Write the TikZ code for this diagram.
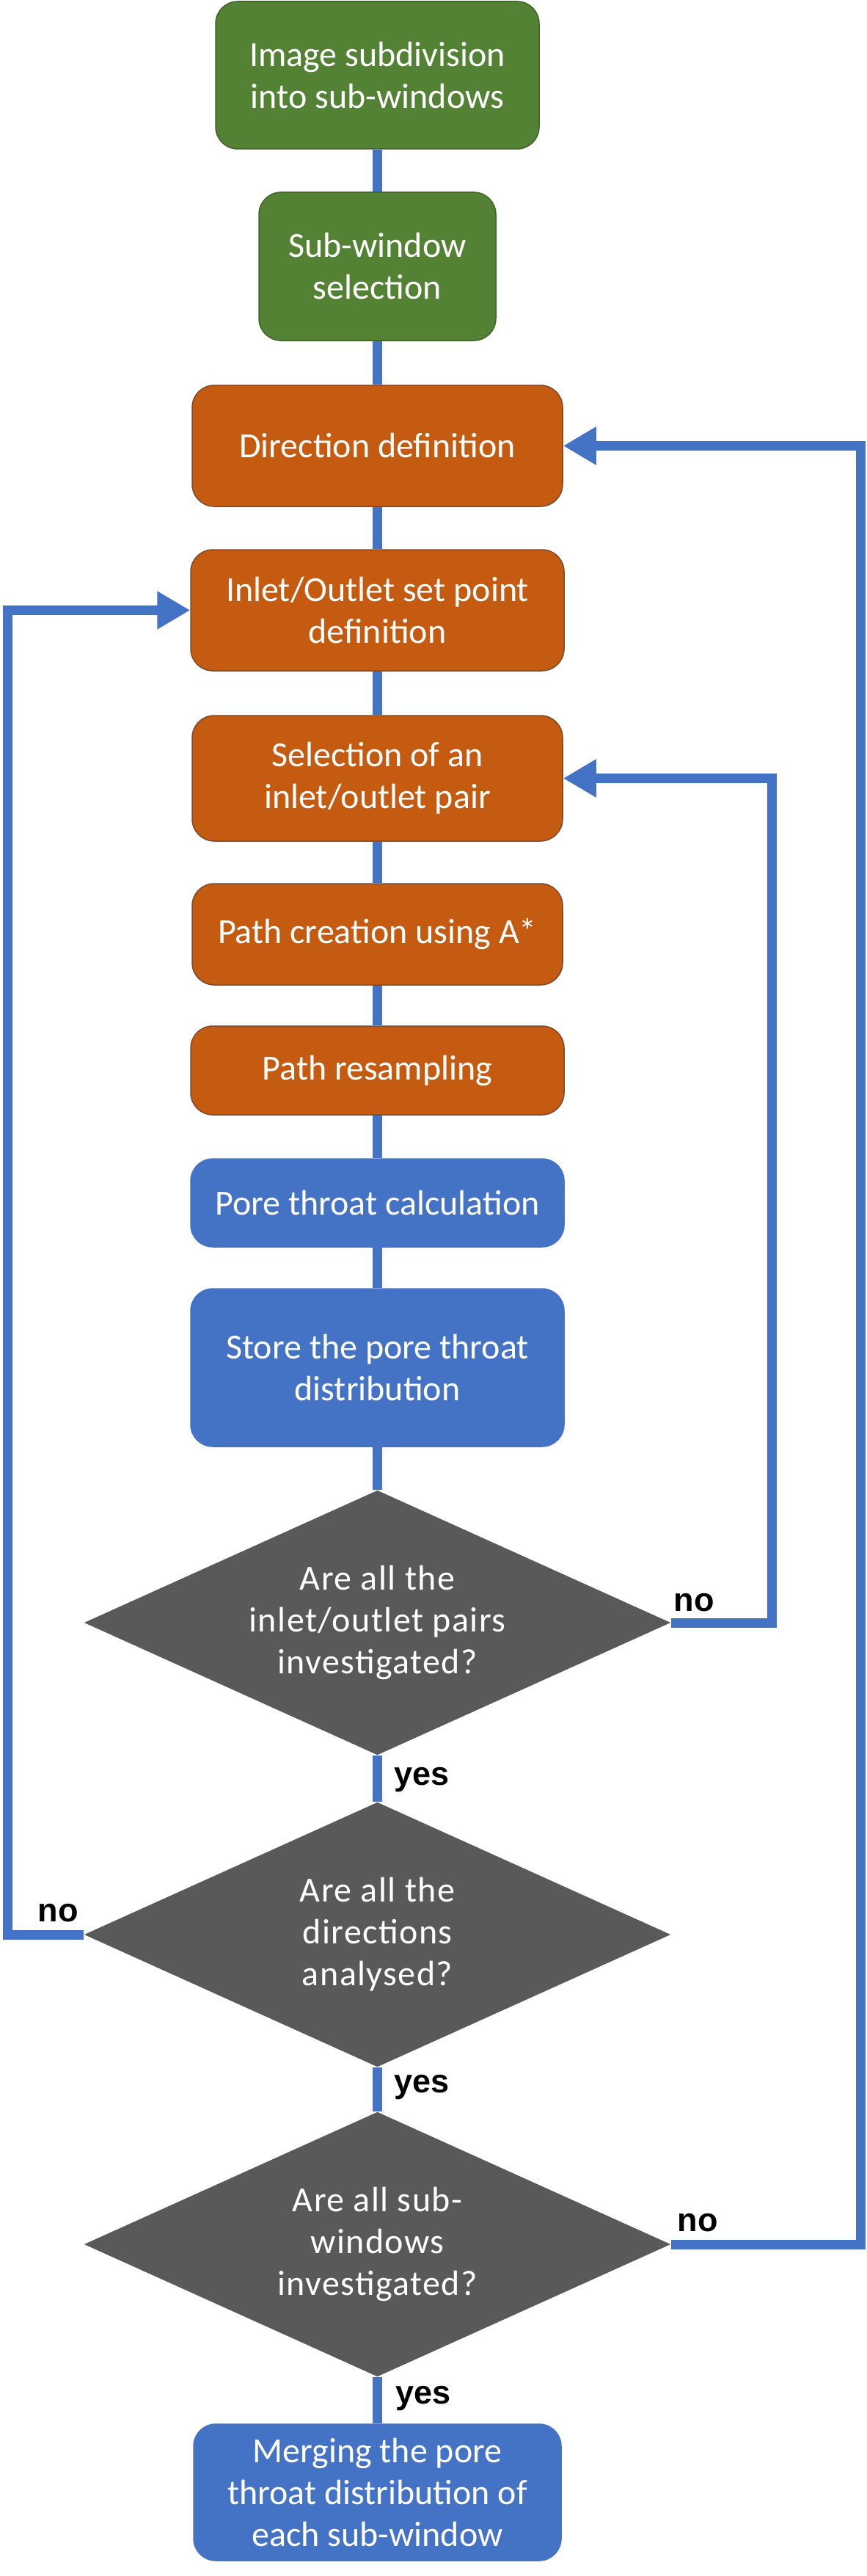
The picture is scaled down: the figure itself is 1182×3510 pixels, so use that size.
\documentclass[tikz,border=0pt]{standalone}
\usepackage{fontspec}
\setmainfont{Carlito}
\newfontfamily\lblfont{Liberation Sans}
\usetikzlibrary{shapes.geometric,arrows.meta}

\definecolor{subgreen}{HTML}{548235}
\definecolor{subgreenedge}{HTML}{3F6228}
\definecolor{steporange}{HTML}{C55A11}
\definecolor{steporangeedge}{HTML}{7A4A2E}
\definecolor{stepblue}{HTML}{4472C4}
\definecolor{decgrey}{HTML}{595959}
\definecolor{flowblue}{HTML}{4472C4}

\tikzset{every picture/.style={line width=0.75pt}}
\tikzset{
  box/.style={rounded corners=15pt, text=white, align=center, inner sep=0pt,
    font=\fontsize{24}{28.5}\selectfont},
  greenbox/.style={box, fill=subgreen, draw=subgreenedge},
  orangebox/.style={box, fill=steporange, draw=steporangeedge},
  bluebox/.style={box, fill=stepblue, draw=stepblue},
  decision/.style={diamond, shape aspect=2.2, fill=decgrey, text=white, align=center,
    inner sep=0pt, minimum width=400pt, minimum height=180.5pt,
    font=\fontsize{24}{28.5}\selectfont\addfontfeature{LetterSpace=3}},
  flow/.style={draw=flowblue, line width=6.5pt},
  back/.style={flow, -{Triangle[length=22.5pt,width=24.5pt]}},
  lbl/.style={font=\lblfont\bfseries\fontsize{22.5}{27}\selectfont, inner sep=0pt, anchor=base west}
}

\begin{document}
\begin{tikzpicture}[x=0.5pt,y=0.5pt,yscale=-1,xscale=1]
	\useasboundingbox (0,0) rectangle (1182,3510);
	%Shape: Rounded Rect [id:subdiv]
	\node[greenbox, minimum width=220.5pt, minimum height=100.5pt] (subdiv) at (514.5,102.5) {Image subdivision\\into sub-windows};
	%Shape: Rounded Rect [id:subsel]
	\node[greenbox, minimum width=161.5pt, minimum height=101pt] (subsel) at (514.5,363) {Sub-window\\selection};
	%Shape: Rounded Rect [id:dirdef]
	\node[orangebox, minimum width=252.5pt, minimum height=82.5pt] (dirdef) at (514.5,607.5) {Direction definition};
	%Shape: Rounded Rect [id:setpt]
	\node[orangebox, minimum width=254.5pt, minimum height=82.5pt] (setpt) at (514.5,831.5) {Inlet/Outlet set point\\definition};
	%Shape: Rounded Rect [id:pairsel]
	\node[orangebox, minimum width=252.5pt, minimum height=85.5pt] (pairsel) at (514.5,1060.5) {Selection of an\\inlet/outlet pair};
	%Shape: Rounded Rect [id:astar]
	\node[orangebox, minimum width=252.5pt, minimum height=69pt] (astar) at (514.5,1273) {Path creation using A*};
	%Shape: Rounded Rect [id:resamp]
	\node[orangebox, minimum width=254.5pt, minimum height=60.5pt] (resamp) at (514.5,1458.5) {Path resampling};
	%Shape: Rounded Rect [id:calc]
	\node[bluebox, minimum width=254.5pt, minimum height=60pt] (calc) at (514.5,1639) {Pore throat calculation};
	%Shape: Rounded Rect [id:store]
	\node[bluebox, minimum width=254.5pt, minimum height=107.5pt] (store) at (514.5,1863.5) {Store the pore throat\\distribution};
	%Shape: Diamond [id:pairsdone]
	\node[decision] (pairsdone) at (514.5,2211) {Are all the\\inlet/outlet pairs\\investigated?};
	%Shape: Diamond [id:dirsdone]
	\node[decision] (dirsdone) at (514.5,2636) {Are all the\\directions\\analysed?};
	%Shape: Diamond [id:winsdone]
	\node[decision] (winsdone) at (514.5,3058) {Are all sub-\\windows\\investigated?};
	%Shape: Rounded Rect [id:merge]
	\node[bluebox, minimum width=250.5pt, minimum height=93pt] (merge) at (514.5,3396) {Merging the pore\\throat distribution of\\each sub-window};

	%Straight Lines
	\draw[flow] (subdiv) -- (subsel);
	\draw[flow] (subsel) -- (dirdef);
	\draw[flow] (dirdef) -- (setpt);
	\draw[flow] (setpt) -- (pairsel);
	\draw[flow] (pairsel) -- (astar);
	\draw[flow] (astar) -- (resamp);
	\draw[flow] (resamp) -- (calc);
	\draw[flow] (calc) -- (store);
	\draw[flow] (store) -- (pairsdone.north);
	\draw[flow] (pairsdone.south) -- (dirsdone.north);
	\draw[flow] (dirsdone.south) -- (winsdone.north);
	\draw[flow] (winsdone.south) -- (merge);

	%Loop Lines
	\coordinate (pairsrail) at (1052,0);
	\coordinate (dirsrail) at (10,0);
	\coordinate (winsrail) at (1173,0);
	\draw[back] (pairsdone.east) -- (pairsdone.east -| pairsrail) -- (pairsel.east -| pairsrail) -- (pairsel.east);
	\draw[back] (dirsdone.west) -- (dirsdone.west -| dirsrail) -- (setpt.west -| dirsrail) -- (setpt.west);
	\draw[back] (winsdone.east) -- (winsdone.east -| winsrail) -- (dirdef.east -| winsrail) -- (dirdef.east);

	% Text Node
	\node[lbl] (noA) at (918,2195) {no};
	% Text Node
	\node[lbl] (yesA) at (537,2432) {yes};
	% Text Node
	\node[lbl] (noB) at (51,2618) {no};
	% Text Node
	\node[lbl] (yesB) at (537,2851) {yes};
	% Text Node
	\node[lbl] (noC) at (923,3040) {no};
	% Text Node
	\node[lbl] (yesC) at (539,3275) {yes};
\end{tikzpicture}
\end{document}
